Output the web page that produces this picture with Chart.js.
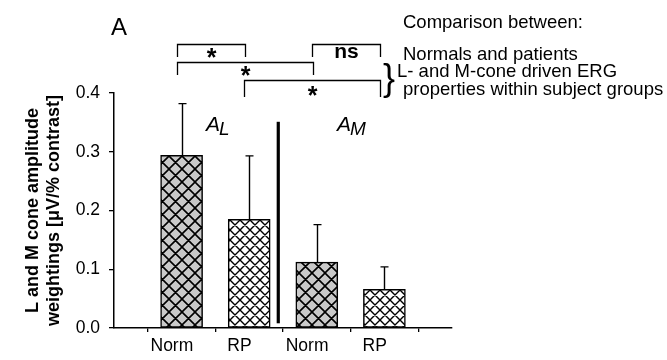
<!DOCTYPE html>
<html><head><meta charset="utf-8">
<script src="https://cdn.jsdelivr.net/npm/chart.js@4"></script>
<style>html,body{margin:0;padding:0;background:#fff}#wrap{width:667px;height:360px;position:relative}</style>
</head><body><div id="wrap"><canvas id="c"></canvas></div>
<script>
// ---- data ----
const categories = ['Norm', 'RP', 'Norm', 'RP'];
const groupFill = ['normal', 'patient', 'normal', 'patient'];
const means = [0.294, 0.185, 0.112, 0.066];
const sdUpper = [0.088, 0.108, 0.064, 0.038];
const yTicks = [0.0, 0.1, 0.2, 0.3, 0.4];
const yTitle = ['L and M cone amplitude', 'weightings [\u03BCV/% contrast]'];
const panelLabel = 'A';
const legendTitle = 'Comparison between:';
const legendLines = ['Normals and patients', 'L- and M-cone driven ERG', 'properties within subject groups'];
const compFrom = [0, 2, 0, 1];
const compTo = [1, 3, 2, 3];
const compLabel = ['*', 'ns', '*', '*'];
const compRow = [0, 0, 1, 2];
const groupLabels = [['A', 'L'], ['A', 'M']];

// ---- styling helpers ----
const FONT = '"Liberation Sans", Arial, Helvetica, sans-serif';
function hatch(bg, s, lw) {
  const c = document.createElement('canvas');
  c.width = c.height = s;
  const g = c.getContext('2d');
  g.fillStyle = bg; g.fillRect(0, 0, s, s);
  g.strokeStyle = '#000'; g.lineWidth = lw;
  g.beginPath();
  for (let k = -1; k <= 1; k++) {
    g.moveTo(-s, -s + k * s); g.lineTo(2 * s, 2 * s + k * s);
  }
  for (let k = 0; k <= 2; k++) {
    g.moveTo(-s, k * s + s); g.lineTo(2 * s, k * s - 2 * s);
  }
  g.stroke();
  return g.createPattern(c, 'repeat');
}
const patNormal = hatch('#c9c9c9', 13, 1.6);
const patPatient = hatch('#ffffff', 10, 1.4);

const labels = ['', ...categories, ''];
const values = [null, ...means, null];
const fills = [null, ...groupFill.map(g => g === 'normal' ? patNormal : patPatient), null];

const annot = {
  id: 'annot',
  afterDatasetsDraw(chart) {
    const { ctx, scales: { x, y } } = chart;
    ctx.save();
    ctx.strokeStyle = '#000';
    ctx.fillStyle = '#000';
    // error bars
    ctx.lineWidth = 1.4;
    means.forEach((m, i) => {
      const px = Math.round(x.getPixelForValue(i + 1)) + 0.5;
      const y0 = y.getPixelForValue(m), y1 = y.getPixelForValue(m + sdUpper[i]);
      ctx.beginPath();
      ctx.moveTo(px, y0); ctx.lineTo(px, y1);
      ctx.moveTo(px - 4, y1); ctx.lineTo(px + 4, y1);
      ctx.stroke();
    });
    // divider
    ctx.lineWidth = 3.2;
    const dx = x.getPixelForValue(2.43);
    ctx.beginPath();
    ctx.moveTo(dx, y.getPixelForValue(0.351));
    ctx.lineTo(dx, y.getPixelForValue(0.008));
    ctx.stroke();
    // group labels A_L, A_M
    ctx.textBaseline = 'alphabetic';
    ctx.textAlign = 'left';
    const glx = [206, 337];
    groupLabels.forEach((gl, i) => {
      ctx.font = 'italic 21px ' + FONT;
      ctx.fillText(gl[0], glx[i], 131);
      const w = ctx.measureText(gl[0]).width;
      ctx.font = 'italic 19px ' + FONT;
      ctx.fillText(gl[1], glx[i] + w - 1, 135);
    });
    // brackets
    const rowTop = [44, 62, 80];
    const rowLeg = [57, 75, 97];
    const rowText = [52, 70, 90];
    ctx.lineWidth = 1.3;
    compFrom.forEach((f, i) => {
      const xa = Math.round(x.getPixelForValue(f + 1)) - 4.5;
      const xb = Math.round(x.getPixelForValue(compTo[i] + 1)) - 3.5;
      const r = compRow[i];
      ctx.beginPath();
      ctx.moveTo(xa, rowLeg[r]); ctx.lineTo(xa, rowTop[r] + 0.5);
      ctx.lineTo(xb, rowTop[r] + 0.5); ctx.lineTo(xb, rowLeg[r]);
      ctx.stroke();
      ctx.textAlign = 'center';
      const mid = (xa + xb) / 2;
      if (compLabel[i] === '*') {
        ctx.font = 'bold 25px ' + FONT;
        ctx.textBaseline = 'alphabetic';
        ctx.fillText('*', mid, rowText[r] + 14);
      } else {
        ctx.font = 'bold 21px ' + FONT;
        ctx.textBaseline = 'alphabetic';
        ctx.fillText(compLabel[i], mid, rowText[r] + 6);
      }
    });
    // panel label
    ctx.textAlign = 'left';
    ctx.font = '24px ' + FONT;
    ctx.fillText(panelLabel, 111, 35);
    // brace
    ctx.font = '36px ' + FONT;
    ctx.fillText('}', 383, 90);
    // legend text
    ctx.font = '18.5px ' + FONT;
    ctx.fillText(legendTitle, 403, 28);
    ctx.fillText(legendLines[0], 403, 60);
    ctx.fillText(legendLines[1], 397, 77);
    ctx.fillText(legendLines[2], 403, 95);
    ctx.restore();
  }
};

new Chart(document.getElementById('c'), {
  type: 'bar',
  data: {
    labels: labels,
    datasets: [{
      data: values,
      backgroundColor: fills,
      borderColor: '#000',
      borderWidth: 1.5,
      borderSkipped: false,
      barThickness: 42
    }]
  },
  options: {
    responsive: true,
    maintainAspectRatio: false,
    animation: false,
    layout: { padding: { top: 93, right: 215, left: 0, bottom: 0 } },
    plugins: { legend: { display: false }, tooltip: { enabled: false } },
    scales: {
      x: {
        offset: false,
        grid: { display: true, drawOnChartArea: false, drawTicks: true, tickLength: 4, color: '#000', lineWidth: 1.3 },
        border: { display: true, color: '#000', width: 1.5 },
        ticks: {
          color: '#000', font: { family: FONT, size: 17.5 }, padding: 4, autoSkip: false, maxRotation: 0,
          callback: (v, i) => labels[i] ? labels[i] + '    ' : ''
        },
        afterFit(s) { s.height = 32; }
      },
      y: {
        min: 0, max: 0.4,
        afterBuildTicks(s) { s.ticks = yTicks.map(v => ({ value: v })); },
        grid: { display: true, drawOnChartArea: false, drawTicks: true, tickLength: 5, color: '#000', lineWidth: 1.3 },
        border: { display: true, color: '#000', width: 1.5 },
        ticks: { color: '#000', font: { family: FONT, size: 17.5 }, padding: 9, callback: v => v.toFixed(1) },
        title: {
          display: true, text: yTitle, color: '#000',
          font: { family: FONT, size: 18, weight: 'bold', lineHeight: 1.2 },
          padding: { top: 22, bottom: 0 }
        },
        afterFit(s) { s.width = 114; }
      }
    }
  },
  plugins: [annot]
});
</script>
</body></html>
